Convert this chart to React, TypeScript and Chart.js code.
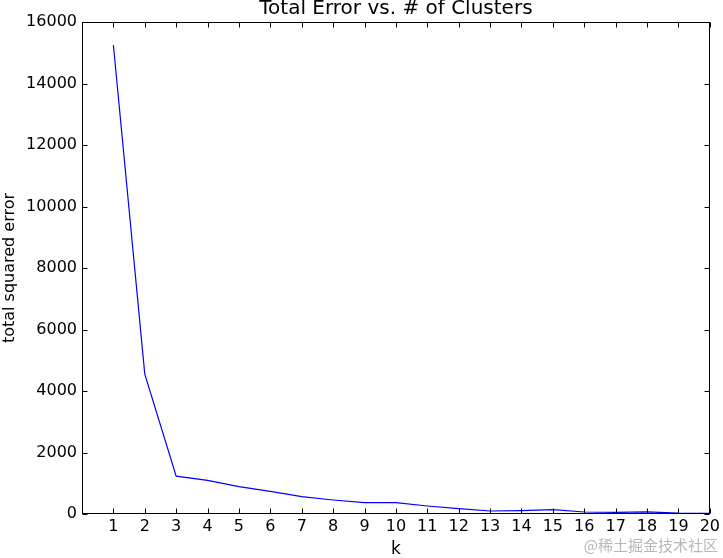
import React, { useEffect, useRef } from "react";
import { Chart, registerables } from "chart.js";

Chart.register(...registerables);

const kValues = [1, 2, 3, 4, 5, 6, 7, 8, 9, 10, 11, 12, 13, 14, 15, 16, 17, 18, 19, 20];
const totalError = [15250, 4550, 1230, 1095, 888, 737, 563, 455, 368, 368, 260, 173, 98, 110, 140, 65, 50, 70, 30, 20];
const xTicks = [1, 2, 3, 4, 5, 6, 7, 8, 9, 10, 11, 12, 13, 14, 15, 16, 17, 18, 19, 20];
const yTicks = [0, 2000, 4000, 6000, 8000, 10000, 12000, 14000, 16000];

const titleText = "Total Error vs. # of Clusters";
const xLabel = "k";
const yLabel = "total squared error";
const watermark = "@稀土掘金技术社区";

const FONT = "'DejaVu Sans', sans-serif";

const framePlugin = {
  id: "mplFrame",
  afterDraw(chart: any) {
    const { ctx, chartArea } = chart;
    const { left, right, top, bottom } = chartArea;
    const x = chart.scales.x;
    const y = chart.scales.y;
    ctx.save();
    ctx.strokeStyle = "#000";
    ctx.lineWidth = 1;
    const L = Math.round(left) + 0.5;
    const R = Math.round(right) - 0.5;
    const T = Math.round(top) + 0.5;
    const B = Math.round(bottom) - 0.5;
    ctx.strokeRect(L, T, R - L, B - T);
    ctx.beginPath();
    const tl = 5;
    x.ticks.forEach((t: any) => {
      const px = Math.round(x.getPixelForValue(t.value)) + 0.5;
      ctx.moveTo(px, B);
      ctx.lineTo(px, B - tl);
      ctx.moveTo(px, T);
      ctx.lineTo(px, T + tl);
    });
    y.ticks.forEach((t: any) => {
      const py = Math.round(y.getPixelForValue(t.value)) + 0.5;
      ctx.moveTo(L, py);
      ctx.lineTo(L + tl, py);
      ctx.moveTo(R, py);
      ctx.lineTo(R - tl, py);
    });
    ctx.stroke();

    ctx.fillStyle = "#000";
    ctx.font = `20px ${FONT}`;
    ctx.textAlign = "center";
    ctx.textBaseline = "middle";
    ctx.fillText(titleText, (left + right) / 2, 9);

    ctx.fillStyle = "rgba(170,170,170,0.85)";
    ctx.font = `15px 'Noto Sans CJK SC', ${FONT}`;
    ctx.textAlign = "right";
    ctx.textBaseline = "middle";
    ctx.fillText(watermark, 718, 545);
    ctx.restore();
  },
};

export default function App() {
  const ref = useRef<HTMLCanvasElement | null>(null);
  useEffect(() => {
    if (!ref.current) return;
    const chart = new Chart(ref.current, {
      type: "line",
      data: {
        datasets: [
          {
            data: kValues.map((k, i) => ({ x: k, y: totalError[i] })),
            borderColor: "#0000ff",
            borderWidth: 1.2,
            pointRadius: 0,
            fill: false,
            tension: 0,
          },
        ],
      },
      options: {
        animation: false,
        responsive: true,
        maintainAspectRatio: false,
        layout: { padding: { top: 22, right: 9, left: 0, bottom: 0 } },
        plugins: {
          legend: { display: false },
          title: { display: false },
          tooltip: { enabled: false },
        },
        scales: {
          x: {
            type: "linear",
            min: 0,
            max: 20,
            afterBuildTicks: (scale: any) => {
              scale.ticks = xTicks.map((v) => ({ value: v }));
            },
            afterFit: (scale: any) => {
              scale.height = 44;
            },
            grid: { display: false, drawTicks: false },
            border: { display: false },
            ticks: {
              color: "#000",
              font: { family: FONT, size: 16 },
              padding: 3,
              maxRotation: 0,
              autoSkip: false,
            },
            title: {
              display: true,
              text: xLabel,
              color: "#000",
              font: { family: FONT, size: 17, lineHeight: 1 },
              padding: { top: 0, bottom: 0 },
            },
          },
          y: {
            type: "linear",
            min: 0,
            max: 16000,
            afterBuildTicks: (scale: any) => {
              scale.ticks = yTicks.map((v) => ({ value: v }));
            },
            afterFit: (scale: any) => {
              scale.width = 82;
            },
            grid: { display: false, drawTicks: false },
            border: { display: false },
            ticks: {
              color: "#000",
              font: { family: FONT, size: 16 },
              padding: 5,
              callback: (v: any) => String(v),
            },
            title: {
              display: true,
              text: yLabel,
              color: "#000",
              font: { family: FONT, size: 16 },
              padding: { top: 0, bottom: 0 },
            },
          },
        },
      },
      plugins: [framePlugin],
    });
    return () => chart.destroy();
  }, []);
  return (
    <div style={{ position: "absolute", left: 0, top: 0, width: 723, height: 558, background: "#fff" }}>
      <canvas ref={ref} />
    </div>
  );
}
